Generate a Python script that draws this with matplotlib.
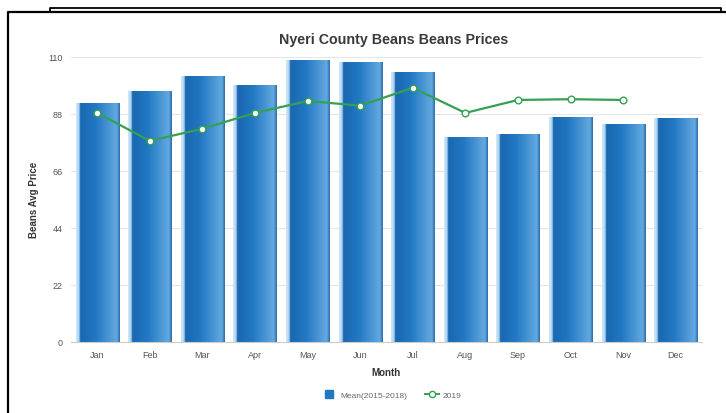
import matplotlib
matplotlib.use("Agg")
import matplotlib.pyplot as plt
import numpy as np
from matplotlib.colors import LinearSegmentedColormap
from matplotlib.lines import Line2D

plt.rcParams["font.family"] = ["Liberation Sans", "DejaVu Sans"]

months = ["Jan", "Feb", "Mar", "Apr", "May", "Jun", "Jul", "Aug", "Sep", "Oct", "Nov", "Dec"]
mean_2015_2018 = [92.2, 96.7, 102.7, 99.2, 108.9, 107.9, 104.2, 79.0, 80.2, 86.9, 84.1, 86.4]
prices_2019 = [88.3, 77.5, 82.2, 88.3, 92.9, 91.1, 98.0, 88.3, 93.3, 93.6, 93.3]
y_ticks = [0, 22, 44, 66, 88, 110]

W, H = 726, 414
fig = plt.figure(figsize=(W / 100, H / 100), dpi=100)
fig.patch.set_facecolor("white")

# panel frame lines
def fline(xs, ys, lw=1.6):
    fig.add_artist(Line2D([x / W for x in xs], [1 - y / H for y in ys],
                          color="black", lw=lw, transform=fig.transFigure))

fline([8, 8, 726], [414, 13, 13])
fline([50, 50, 721, 721], [13, 9.3, 9.3, 13], lw=1.3)

ax = fig.add_axes([71 / W, 1 - 342.7 / H, (702 - 71) / W, (342.7 - 57.7) / H])
x = np.arange(len(months))
bar_w = 0.82

# horizontal grid
for t in y_ticks:
    ax.axhline(t, color="#e6e6e6", lw=0.8, zorder=0)

# bars with horizontal gradient
cmap = LinearSegmentedColormap.from_list(
    "barfill",
    [(0.0, "#d4e9f8"), (0.07, "#a9d2f0"), (0.10, "#1a67b0"),
     (0.45, "#2178c2"), (0.93, "#63a9e0"), (1.0, "#2a6aa8")])
grad = np.linspace(0, 1, 256).reshape(1, -1)
bars = ax.bar(x, mean_2015_2018, width=bar_w, color="none", edgecolor="none", zorder=2)
for b in bars:
    x0, w, h = b.get_x(), b.get_width(), b.get_height()
    im = ax.imshow(grad, cmap=cmap, aspect="auto", extent=[x0, x0 + w, 0, h],
                   zorder=2, interpolation="bilinear")
    im.set_clip_path(b)
ax.set_xlim(-0.5, len(months) - 0.5)
ax.set_ylim(0, 110)

# 2019 line
ax.plot(x[:len(prices_2019)], prices_2019, color="#33a052", lw=1.6, zorder=3,
        marker="o", markersize=4.8, markerfacecolor="white",
        markeredgecolor="#33a052", markeredgewidth=1.0)

for s in ["top", "right", "left"]:
    ax.spines[s].set_visible(False)
ax.spines["bottom"].set_color("#cccccc")
ax.spines["bottom"].set_linewidth(0.8)

ax.set_yticks(y_ticks)
ax.set_yticklabels([str(t) for t in y_ticks])
ax.set_xticks(x)
ax.set_xticklabels(months)
ax.tick_params(axis="both", labelsize=6.5, labelcolor="#555555", length=0, pad=6)
ax.tick_params(axis="y", pad=6)

ax.set_xlabel("Month", fontsize=7, fontweight="bold", color="#333333", labelpad=6)
ax.set_ylabel("Beans Avg Price", fontsize=7, fontweight="bold", color="#333333", labelpad=7)

fig.text(0.5 * (71 + 717) / W, 1 - 40 / H, "Nyeri County Beans Beans Prices",
         ha="center", va="center", fontsize=10.3, fontweight="bold", color="#3a3a3a")

# legend
leg_handles = [
    Line2D([0], [0], marker="s", color="none", markerfacecolor="#2178c2",
           markeredgecolor="#2178c2", markersize=6),
    Line2D([0], [0], color="#33a052", lw=1.4, marker="o", markersize=4.5,
           markerfacecolor="white", markeredgecolor="#33a052"),
]
fig.legend(leg_handles, ["Mean(2015-2018)", "2019"], loc="center",
           bbox_to_anchor=(392 / W, 1 - 396 / H), ncol=2, frameon=False,
           fontsize=6, labelcolor="#666666", handlelength=1.6, columnspacing=2.2,
           handletextpad=0.5)

fig.savefig("out.png", dpi=100, facecolor="white")
